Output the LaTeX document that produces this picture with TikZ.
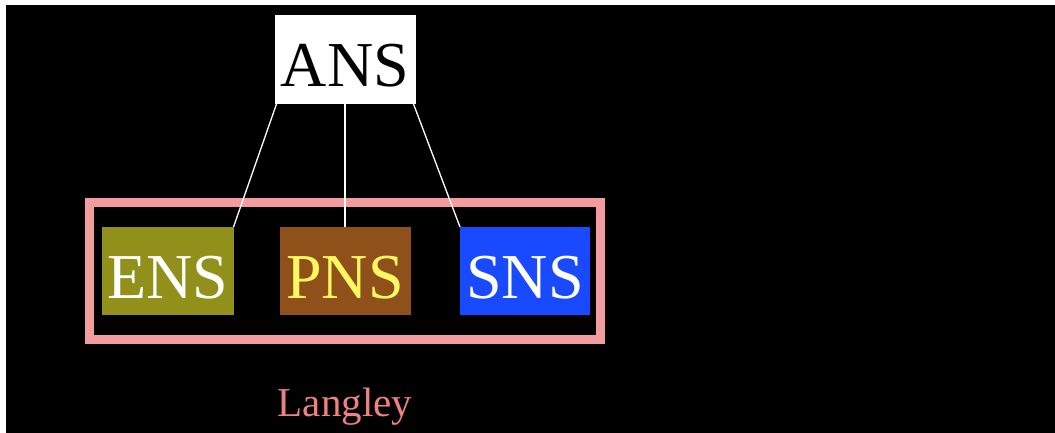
\documentclass[tikz,border=0pt]{standalone}
\usepackage{fontspec}
\setmainfont{Liberation Serif}
\definecolor{framepink}{RGB}{242,156,160}
\definecolor{langpink}{RGB}{238,130,130}
\definecolor{ensolive}{RGB}{145,144,26}
\definecolor{pnsbrown}{RGB}{144,80,26}
\definecolor{pnsyellow}{RGB}{255,248,96}
\definecolor{snsblue}{RGB}{26,74,255}
\tikzset{
  sysbox/.style={rectangle, inner sep=0pt, outer sep=0pt,
    minimum width=132pt, minimum height=88pt,
    font=\fontsize{64pt}{64pt}\selectfont,
    text height=54pt, text depth=0pt},
  link/.style={draw=white, line width=1.3pt}
}
\begin{document}
\begin{tikzpicture}[x=1pt, y=-1pt]
  % page and dark panel
  \fill[white] (0,0) rectangle (1055,433);
  \fill[black] (6,5) rectangle (1055,433);
  \useasboundingbox (0,0) rectangle (1055,433);

  % top node
  \node[sysbox, fill=white, text=black, minimum width=141pt, minimum height=89pt] (ans) at (345,59.5) {ANS};

  % grouping frame
  \node[draw=framepink, line width=9pt, rectangle, inner sep=0pt,
        minimum width=511pt, minimum height=137pt] (grp) at (344.5,270.5) {};

  % the three subsystems
  \node[sysbox, fill=ensolive, text=white] (ens) at (167.5,271) {ENS};
  \node[sysbox, fill=pnsbrown, text=pnsyellow, minimum width=131pt] (pns) at (345,271) {PNS};
  \node[sysbox, fill=snsblue, text=white, minimum width=130pt] (sns) at (525,271) {SNS};

  % connectors
  \draw[link] (ans.south west) ++(2,0) coordinate (a1) -- (ens.north east);
  \draw[link] (ans.south) -- (pns.north);
  \draw[link] (ans.south east) ++(-2,0) coordinate (a3) -- (sns.north west);

  % caption
  \node[text=langpink, font=\fontsize{41pt}{41pt}\selectfont, anchor=base] (cap) at (345,416) {Langley};
\end{tikzpicture}
\end{document}
